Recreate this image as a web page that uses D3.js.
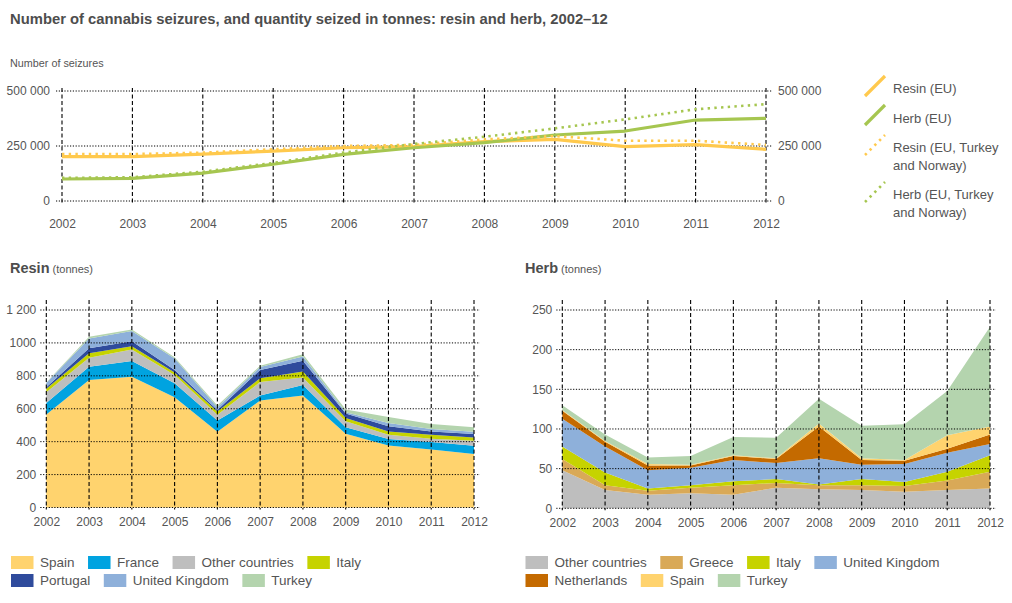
<!DOCTYPE html>
<html><head><meta charset="utf-8">
<script src="https://cdn.jsdelivr.net/npm/d3@7"></script>
<style>
body{margin:0;background:#fff;}
text{font-family:"Liberation Sans",Arial,sans-serif;fill:#555;}
</style>
</head><body>
<svg id="c" width="1012" height="603"></svg>
<script>
// ---------- DATA ----------
const years = [2002,2003,2004,2005,2006,2007,2008,2009,2010,2011,2012];

// Top chart: number of seizures
const seizureTicks = [0, 250000, 500000];
const seizureTickLabels = ["0", "250 000", "500 000"];
const resinEU      = [202000,202000,213000,227000,242000,247000,270000,280000,247000,256000,235000];
const herbEU       = [100000,103000,127000,167000,212000,242000,265000,300000,318000,368000,376000];
const resinEUTRNO  = [213000,213000,220000,235000,250000,255000,280000,295000,274000,274000,255000];
const herbEUTRNO   = [105000,108000,133000,173000,220000,259000,292000,330000,371000,417000,440000];
const topLegendLabels = [["Resin (EU)"],["Herb (EU)"],["Resin (EU, Turkey","and Norway)"],["Herb (EU, Turkey","and Norway)"]];

// Resin (tonnes)
const resinTicks = [0,200,400,600,800,1000,1200];
const resinTickLabels = ["0","200","400","600","800","1000","1 200"];
const resinCountries = ["Spain","France","Other countries","Italy","Portugal","United Kingdom","Turkey"];
const resinSpain    = [565,775,795,670,460,650,680,448,376,352,325];
const resinFrance   = [ 70, 80, 95, 85, 68, 30, 65, 40, 40, 46, 50];
const resinOther    = [ 65, 55, 70, 50, 35, 82, 45, 36, 26, 20, 30];
const resinItaly    = [ 22, 27, 20, 16, 20, 24, 36, 20, 20, 24, 20];
const resinPortugal = [  8, 30, 30, 14, 10, 50, 66, 27, 31, 20, 21];
const resinUK       = [ 27, 60, 63, 70, 16, 17, 25,  8, 20, 15, 15];
const resinTurkey   = [  3, 10,  8,  8, 10,  9, 14, 16, 37, 30, 27];

// Herb (tonnes)
const herbTicks = [0,50,100,150,200,250];
const herbTickLabels = ["0","50","100","150","200","250"];
const herbCountries = ["Other countries","Greece","Italy","United Kingdom","Netherlands","Spain","Turkey"];
const herbOther       = [48,23,17,19,17,26,24,23,21,23, 25];
const herbGreece      = [14, 6, 5, 7,12, 6, 5, 6, 7,12, 21];
const herbItaly       = [16,16, 3, 3, 5, 5, 1, 8, 5,11, 21];
const herbUK          = [35,33,23,22,27,20,33,18,23,24, 14];
const herbNetherlands = [10, 6, 6, 3, 5, 5,40, 6, 4, 5, 12];
const herbSpain       = [ 1, 1, 2, 1, 1, 1, 4, 2, 1,17, 10];
const herbTurkey      = [ 6, 8, 8,11,23,26,31,41,45,56,126];

// Legend rows
const resinLegendRows = [["Spain","France","Other countries","Italy"],["Portugal","United Kingdom","Turkey"]];
const herbLegendRows  = [["Other countries","Greece","Italy","United Kingdom"],["Netherlands","Spain","Turkey"]];

// ---------- STYLE ----------
const cResin = "#FFC94D", cHerb = "#A6C650";
const resinColors = {"Spain":"#FFD36E","France":"#00A3E0","Other countries":"#BEBEBE","Italy":"#C6D300",
  "Portugal":"#2F4B9C","United Kingdom":"#8EB0DA","Turkey":"#B4D4AE"};
const herbColors = {"Other countries":"#BEBEBE","Greece":"#D9A957","Italy":"#C6D300","United Kingdom":"#8EB0DA",
  "Netherlands":"#C46A00","Spain":"#FFD36E","Turkey":"#B4D4AE"};
const gridH = {stroke:"#000", "stroke-width":1, "stroke-dasharray":"1.2,1.6"};
const gridV = {stroke:"#000", "stroke-width":1.1, "stroke-dasharray":"4,2.5"};

const svg = d3.select("#c");
function applyAttrs(sel, o){ for (const k in o) sel.attr(k, o[k]); return sel; }

// ---------- TITLE ----------
svg.append("text").attr("x",10).attr("y",24).attr("font-size",14.8).attr("font-weight","bold")
  .style("fill","#4d4d4d").text("Number of cannabis seizures, and quantity seized in tonnes: resin and herb, 2002–12");
svg.append("text").attr("x",10).attr("y",67).attr("font-size",10.8).style("fill","#555").text("Number of seizures");

// ---------- TOP CHART ----------
const xT = d3.scalePoint().domain(years).range([62, 766]);
const yT = d3.scaleLinear().domain([0, 500000]).range([201, 91]);
const gT = svg.append("g");
seizureTicks.forEach(t => applyAttrs(gT.append("line").attr("x1",56).attr("x2",772).attr("y1",yT(t)).attr("y2",yT(t)), gridH));
years.forEach(yr => applyAttrs(gT.append("line").attr("x1",xT(yr)).attr("x2",xT(yr)).attr("y1",yT(500000)-3).attr("y2",yT(0)+3), gridV));
const axL = d3.axisLeft(yT).tickValues(seizureTicks).tickFormat((d,i)=>seizureTickLabels[i]).tickSize(0).tickPadding(6);
const axR = d3.axisRight(yT).tickValues(seizureTicks).tickFormat((d,i)=>seizureTickLabels[i]).tickSize(0).tickPadding(6);
const axB = d3.axisBottom(xT).tickSize(0).tickPadding(0);
function styleAxis(g){ g.select(".domain").remove(); g.selectAll("text").attr("font-size",12).style("fill","#555").attr("font-family",null); }
gT.append("g").attr("transform","translate(56,0)").call(axL).call(styleAxis);
gT.append("g").attr("transform","translate(772,0)").call(axR).call(styleAxis);
gT.append("g").attr("transform","translate(0,219)").call(axB).call(styleAxis);

const lineT = d3.line().x((d,i)=>xT(years[i])).y(d=>yT(d));
const topSeries = [
  {v: resinEU, c: cResin, dotted:false},
  {v: herbEU, c: cHerb, dotted:false},
  {v: resinEUTRNO, c: cResin, dotted:true},
  {v: herbEUTRNO, c: cHerb, dotted:true}
];
topSeries.forEach(s => {
  const p = gT.append("path").attr("d", lineT(s.v)).attr("fill","none").attr("stroke", s.c);
  if (s.dotted) p.attr("stroke-width",2.6).attr("stroke-dasharray","2.4,4.3");
  else p.attr("stroke-width",3.2).attr("stroke-linejoin","round");
});
const legY = [96, 125, 155, 202];
const legTextY = [[93],[122.5],[151.5,170],[199,217]];
topSeries.forEach((s,i) => {
  const p = gT.append("line").attr("x1",865).attr("y1",legY[i]).attr("x2",885).attr("y2",legY[i]-20).attr("stroke",s.c);
  if (s.dotted) p.attr("stroke-width",2.6).attr("stroke-dasharray","2.4,4.3"); else p.attr("stroke-width",3.2);
  topLegendLabels[i].forEach((t,j) => gT.append("text").attr("x",893).attr("y",legTextY[i][j]).attr("font-size",13).style("fill","#555").text(t));
});

// ---------- STACKED AREA CHARTS ----------
function stackedChart(opt){
  const g = svg.append("g");
  const x = d3.scalePoint().domain(years).range(opt.xr);
  const y = d3.scaleLinear().domain([0, opt.max]).range(opt.yr);
  const rows = years.map((yr,i)=>{ const o={year:yr}; opt.keys.forEach((k,j)=>o[k]=opt.series[j][i]); return o; });
  const stack = d3.stack().keys(opt.keys)(rows);
  const area = d3.area().x(d=>x(d.data.year)).y0(d=>y(d[0])).y1(d=>y(d[1]));
  g.selectAll("path.a").data(stack).join("path").attr("class","a").attr("d",area).attr("fill",d=>opt.colors[d.key]);
  opt.ticks.forEach(t => applyAttrs(g.append("line").attr("x1",opt.xr[0]-6).attr("x2",opt.xr[1]+6).attr("y1",y(t)).attr("y2",y(t)), gridH));
  years.forEach(yr => applyAttrs(g.append("line").attr("x1",x(yr)).attr("x2",x(yr)).attr("y1",opt.yr[1]-10).attr("y2",opt.yr[0]+2), gridV));
  const aL = d3.axisLeft(y).tickValues(opt.ticks).tickFormat((d,i)=>opt.labels[i]).tickSize(0).tickPadding(4);
  g.append("g").attr("transform",`translate(${opt.xr[0]-6},0)`).call(aL).call(styleAxis);
  const aB = d3.axisBottom(x).tickSize(0).tickPadding(0);
  g.append("g").attr("transform",`translate(0,${opt.yr[0]+10})`).call(aB).call(styleAxis);
  const t = g.append("text").attr("x",opt.tx).attr("y",273).style("fill","#4d4d4d");
  t.append("tspan").attr("font-size",14.5).attr("font-weight","bold").text(opt.title);
  t.append("tspan").attr("font-size",11).style("fill","#555").text(" (tonnes)");
  opt.legendRows.forEach((row,ri) => {
    let cx = opt.lx;
    row.forEach(k => {
      g.append("rect").attr("x",cx).attr("y",556+ri*18).attr("width",22.5).attr("height",13).attr("fill",opt.colors[k]);
      const tt = g.append("text").attr("x",cx+29).attr("y",567+ri*18).attr("font-size",13.5).style("fill","#555").text(k);
      cx += 29 + tt.node().getComputedTextLength() + 13.5;
    });
  });
}

stackedChart({xr:[46.3,474], yr:[507.5,310], max:1200, keys:resinCountries,
  series:[resinSpain,resinFrance,resinOther,resinItaly,resinPortugal,resinUK,resinTurkey],
  colors:resinColors, ticks:resinTicks, labels:resinTickLabels, title:"Resin", tx:10, lx:11, legendRows:resinLegendRows});
stackedChart({xr:[562.3,990], yr:[508.3,310], max:250, keys:herbCountries,
  series:[herbOther,herbGreece,herbItaly,herbUK,herbNetherlands,herbSpain,herbTurkey],
  colors:herbColors, ticks:herbTicks, labels:herbTickLabels, title:"Herb", tx:525, lx:525.5, legendRows:herbLegendRows});
</script>
</body></html>
